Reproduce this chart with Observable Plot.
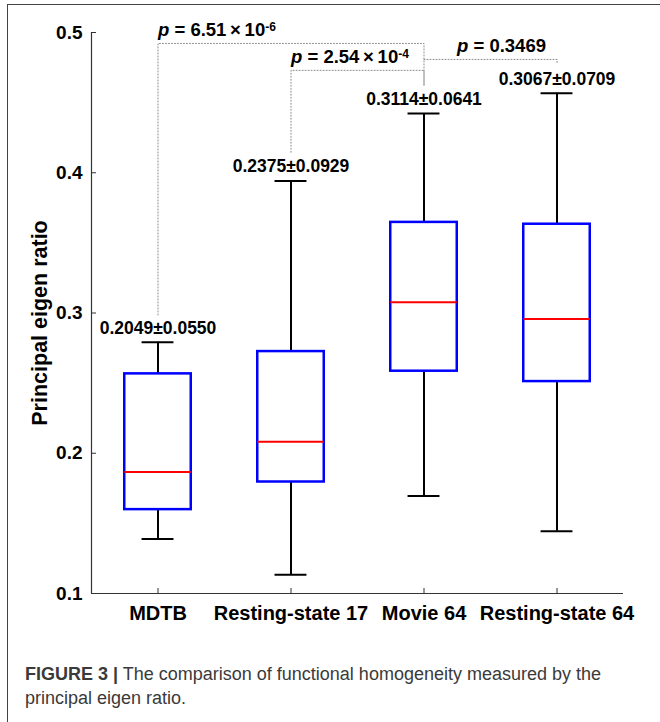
<!DOCTYPE html>
<html><head><meta charset="utf-8">
<script src="https://cdn.jsdelivr.net/npm/d3@7"></script>
<script src="https://cdn.jsdelivr.net/npm/@observablehq/plot@0.6"></script>
<style>
body{margin:0;background:#fff;width:660px;height:722px;overflow:hidden;position:relative;font-family:Arial,"Liberation Sans",sans-serif}
#frame{position:absolute;left:7px;top:4px;width:680px;height:740px;border-left:1.5px solid #444;border-top:1.5px solid #444}
#chart{position:absolute;left:0;top:0}
#caption{position:absolute;left:25px;top:662px;width:630px;font-size:18px;line-height:24px;color:#3a3a3a;white-space:nowrap}
</style></head>
<body>
<div id="frame"></div>
<div id="chart"></div>
<div id="caption"><b>FIGURE 3 |</b> The comparison of functional homogeneity measured by the<br>principal eigen ratio.</div>
<script>
// ---- data ----
const categories = ["MDTB", "Resting-state 17", "Movie 64", "Resting-state 64"];
const whiskerLow  = [0.1389, 0.1133, 0.1695, 0.1443];
const q1          = [0.1598, 0.1795, 0.2585, 0.2511];
const median      = [0.1866, 0.2082, 0.3076, 0.2957];
const q3          = [0.2566, 0.2725, 0.3646, 0.3633];
const whiskerHigh = [0.2791, 0.3942, 0.4423, 0.4566];
const meanSd      = ["0.2049\u00B10.0550", "0.2375\u00B10.0929", "0.3114\u00B10.0641", "0.3067\u00B10.0709"];
const yTicks      = [0.1, 0.2, 0.3, 0.4, 0.5];
const yTitle      = "Principal eigen ratio";
// significance brackets (group indices and levels in data units)
const bracketFrom     = [0, 1, 2];
const bracketTo       = [2, 2, 3];
const bracketTop      = [0.4922, 0.4730, 0.4808];
const bracketLeftEnd  = [0.2986, 0.4146, 0.4808];
const bracketRightEnd = [0.4623, 0.4623, 0.4779];
const pMantissa = ["6.51", "2.54", "0.3469"];
const pExponent = ["-6", "-4", ""];

// ---- build ----
const idx = categories.map((_, i) => i);
const boxes = idx.map(i => ({i, lo: whiskerLow[i], q1: q1[i], med: median[i], q3: q3[i], hi: whiskerHigh[i], label: meanSd[i]}));
const bracketPts = [];
bracketFrom.forEach((f, k) => {
  const t = bracketTo[k];
  bracketPts.push({k, x: f, y: bracketLeftEnd[k]}, {k, x: f, y: bracketTop[k]},
                  {k, x: t, y: bracketTop[k]}, {k, x: t, y: bracketRightEnd[k]});
});
const pData = bracketFrom.map((f, k) => ({k, x: f, y: bracketTop[k], t: "p = " + pMantissa[k] + (pExponent[k] ? "\u00D710" + pExponent[k] : "")}));

const W = 0.25, CAP = 0.12;
const tickLenX = 5 / 133, tickLenY = 5 / 1402.5;

const plot = Plot.plot({
  width: 660, height: 640,
  marginLeft: 91, marginRight: 37, marginTop: 32, marginBottom: 47,
  style: {fontFamily: 'Arial, "Liberation Sans", sans-serif', fontWeight: "bold", background: "transparent", overflow: "visible", color: "black"},
  x: {domain: [-0.5, 3.5], axis: null},
  y: {domain: [0.1, 0.5], axis: null},
  marks: [
    Plot.line(bracketPts, {x: "x", y: "y", z: "k", stroke: "#8a8a8a", strokeWidth: 1, strokeDasharray: "1,2"}),
    Plot.ruleX(boxes, {x: "i", y1: "lo", y2: "q1", stroke: "black", strokeWidth: 2}),
    Plot.ruleX(boxes, {x: "i", y1: "q3", y2: "hi", stroke: "black", strokeWidth: 2}),
    Plot.ruleY(boxes, {y: "lo", x1: d => d.i - CAP, x2: d => d.i + CAP, stroke: "black", strokeWidth: 2}),
    Plot.ruleY(boxes, {y: "hi", x1: d => d.i - CAP, x2: d => d.i + CAP, stroke: "black", strokeWidth: 2}),
    Plot.rect(boxes, {x1: d => d.i - W, x2: d => d.i + W, y1: "q1", y2: "q3", fill: "none", stroke: "#0000ff", strokeWidth: 2.5}),
    Plot.ruleY(boxes, {y: "med", x1: d => d.i - W, x2: d => d.i + W, stroke: "#ff0000", strokeWidth: 2}),
    Plot.text(boxes, {x: "i", y: "hi", text: "label", dy: -14, fontSize: 17.5, fill: "black"}),
    // axes
    Plot.ruleX([-0.5], {stroke: "#333", strokeWidth: 1.2}),
    Plot.ruleY([0.1], {stroke: "#333", strokeWidth: 1.2}),
    Plot.ruleY(yTicks, {x1: -0.5, x2: -0.5 + tickLenX, stroke: "#333", strokeWidth: 1}),
    Plot.ruleX(idx, {y1: 0.1, y2: 0.1 + tickLenY, stroke: "#333", strokeWidth: 1}),
    Plot.axisY({ticks: yTicks, tickFormat: d => d.toFixed(1), tickSize: 0, tickPadding: 9, fontSize: 19, label: null}),
    Plot.axisX({ticks: idx, tickFormat: i => categories[i], tickSize: 0, tickPadding: 12, fontSize: 20, label: null}),
    Plot.text([yTitle], {frameAnchor: "left", textAnchor: "middle", rotate: -90, dx: -51, dy: 10, fontSize: 21.5, fill: "black"}),
    Plot.text(pData.filter(d => d.k < 2), {x: "x", y: "y", text: "t", textAnchor: "start", dy: -13, fontSize: 18.5, fill: "black"}),
    Plot.text(pData.filter(d => d.k >= 2), {x: "x", y: "y", text: "t", textAnchor: "start", dx: 33, dy: -13, fontSize: 18.5, fill: "black"})
  ]
});
document.getElementById("chart").appendChild(plot);

// italic p and superscript exponent
const ns = "http://www.w3.org/2000/svg";
const texts = [...plot.querySelectorAll("text")].filter(t => t.textContent.startsWith("p = "));
texts.forEach((t, k) => {
  while (t.firstChild) t.removeChild(t.firstChild);
  const p = document.createElementNS(ns, "tspan");
  p.setAttribute("font-style", "italic");
  p.textContent = "p";
  t.appendChild(p);
  t.appendChild(document.createTextNode(" = " + pMantissa[k] + (pExponent[k] ? "\u2009\u00D7\u200910" : "")));
  if (pExponent[k]) {
    const s = document.createElementNS(ns, "tspan");
    s.setAttribute("dy", "-0.45em");
    s.setAttribute("font-size", "0.65em");
    s.textContent = pExponent[k];
    t.appendChild(s);
  }
});
</script>
</body></html>
